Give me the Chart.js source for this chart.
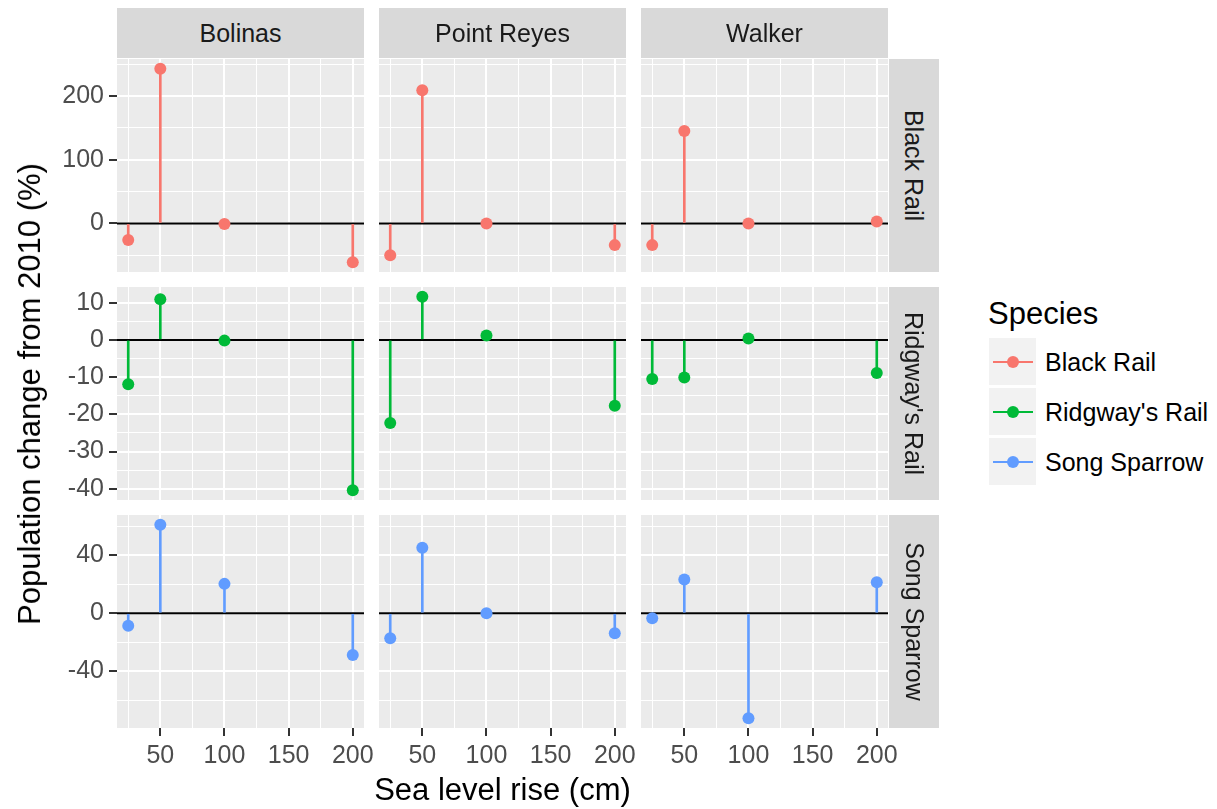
<!DOCTYPE html>
<html>
<head>
<meta charset="utf-8">
<script src="https://cdn.jsdelivr.net/npm/chart.js@4.4.0/dist/chart.umd.min.js"></script>
<style>
  body { margin: 0; background: #fff; font-family: "Liberation Sans", Arial, sans-serif; }
  #wrap { position: relative; width: 1217px; height: 809px; overflow: hidden; }
  canvas { position: absolute; }
  .strip { position: absolute; background: #D9D9D9; color: #1A1A1A; font-size: 25px;
           display: flex; align-items: center; justify-content: center; white-space: nowrap; }
  .strip.right span { transform: rotate(90deg); }
  .title { position: absolute; color: #000; font-size: 31px; white-space: nowrap; transform: translate(-50%, -50%); }
  .title.y { transform: translate(-50%, -50%) rotate(-90deg); }
  .key { position: absolute; width: 47px; height: 47px; background: #F2F2F2; }
  .key .ln { position: absolute; left: 4px; width: 40px; top: 22.5px; height: 2px; }
  .key .pt { position: absolute; left: 17.5px; top: 17.5px; width: 12px; height: 12px; border-radius: 50%; }
  .klabel { position: absolute; font-size: 25px; color: #000; transform: translateY(-50%); white-space: nowrap; }
</style>
</head>
<body>
<div id="wrap"></div>
<script>
// facets
const sites = ['Bolinas', 'Point Reyes', 'Walker'];
const species = ['Black Rail', "Ridgway's Rail", 'Song Sparrow'];
const colors = ['#F8766D', '#00BA38', '#619CFF'];

// sea level rise (cm)
const seaLevelRise = [25, 50, 100, 200];

// population change from 2010 (%), one array per site (Bolinas, Point Reyes, Walker)
const blackRail = [[-26, 243, -1, -61], [-50, 209, 0, -34], [-34, 145, 0, 3]];
const ridgwaysRail = [[-11.9, 10.9, -0.2, -40.4], [-22.3, 11.6, 1.2, -17.7], [-10.5, -10.1, 0.4, -8.9]];
const songSparrow = [[-8.6, 61.2, 20.3, -28.9], [-17.3, 45.3, 0, -13.9], [-3.5, 23.3, -72.6, 21.5]];
const rows = [blackRail, ridgwaysRail, songSparrow];

// ticks (major = labelled, grid = major + minor)
const xTicks = [50, 100, 150, 200];
const xGrid = [25, 50, 75, 100, 125, 150, 175, 200];
const yTicks = [[0, 100, 200], [-40, -30, -20, -10, 0, 10], [-40, 0, 40]];
const yGrid = [
  [-50, 0, 50, 100, 150, 200, 250],
  [-40, -35, -30, -25, -20, -15, -10, -5, 0, 5, 10],
  [-60, -40, -20, 0, 20, 40, 60]
];

// layout
const colLeft = [117, 379, 641], panelW = 247;
const rowTop = [59, 287, 515], panelH = 213;
const M = 25;
const FONT = '"Liberation Sans", Arial, sans-serif';
const wrap = document.getElementById('wrap');

// ggplot-style 5% expansion
function expand(lo, hi) {
  const p = (hi - lo) * 0.05;
  return [lo - p, hi + p];
}
const [xMin, xMax] = expand(Math.min(...seaLevelRise), Math.max(...seaLevelRise));

const panelBg = {
  id: 'panelBg',
  beforeDraw(chart) {
    const a = chart.chartArea, ctx = chart.ctx;
    ctx.save();
    ctx.fillStyle = '#EBEBEB';
    ctx.fillRect(a.left, a.top, a.right - a.left, a.bottom - a.top);
    ctx.restore();
  }
};

const zeroLine = {
  id: 'zeroLine',
  beforeDatasetsDraw(chart) {
    const a = chart.chartArea, ctx = chart.ctx;
    const y = chart.scales.y.getPixelForValue(0);
    ctx.save();
    ctx.strokeStyle = '#000';
    ctx.lineWidth = 2;
    ctx.beginPath();
    ctx.moveTo(a.left, y);
    ctx.lineTo(a.right, y);
    ctx.stroke();
    ctx.restore();
  }
};

function addDiv(cls, html, style) {
  const d = document.createElement('div');
  d.className = cls;
  d.innerHTML = html;
  Object.assign(d.style, style);
  wrap.appendChild(d);
  return d;
}

rows.forEach((siteVals, r) => {
  const [yMin, yMax] = expand(Math.min(...siteVals.flat()), Math.max(...siteVals.flat()));
  siteVals.forEach((vals, c) => {
    const left = c === 0 ? 0 : colLeft[c] - M;
    const top = rowTop[r] - M;
    const w = colLeft[c] + panelW + M - left;
    const h = rowTop[r] + panelH + (r === 2 ? 60 : M) - top;

    const cv = document.createElement('canvas');
    cv.width = w; cv.height = h;
    cv.style.left = left + 'px'; cv.style.top = top + 'px';
    cv.style.width = w + 'px'; cv.style.height = h + 'px';
    wrap.appendChild(cv);

    const col = colors[r];
    new Chart(cv, {
      type: 'scatter',
      data: {
        datasets: [
          {
            type: 'bar',
            data: seaLevelRise.map((x, i) => ({ x: x, y: [0, vals[i]] })),
            backgroundColor: col,
            borderWidth: 0,
            barThickness: 2,
            order: 2
          },
          {
            type: 'scatter',
            data: seaLevelRise.map((x, i) => ({ x: x, y: vals[i] })),
            backgroundColor: col,
            pointRadius: 6,
            borderWidth: 0,
            order: 1
          }
        ]
      },
      options: {
        responsive: false,
        animation: false,
        events: [],
        devicePixelRatio: 1,
        layout: { padding: { left: c === 0 ? 0 : M, top: M, right: M, bottom: r === 2 ? 0 : M } },
        plugins: { legend: { display: false }, tooltip: { enabled: false } },
        scales: {
          x: {
            type: 'linear',
            min: xMin,
            max: xMax,
            offset: false,
            afterBuildTicks: s => { s.ticks = xGrid.map(v => ({ value: v })); },
            afterFit: s => { s.height = r === 2 ? 60 : 0; s.paddingLeft = 0; s.paddingRight = 0; },
            border: { display: false },
            grid: {
              offset: false,
              color: '#fff',
              lineWidth: ctx => (ctx.tick && xTicks.includes(ctx.tick.value)) ? 2 : 1,
              drawTicks: r === 2,
              tickLength: 8,
              tickWidth: 2,
              tickColor: ctx => (ctx.tick && xTicks.includes(ctx.tick.value)) ? '#333333' : 'rgba(0,0,0,0)'
            },
            ticks: {
              display: r === 2,
              autoSkip: false,
              maxRotation: 0,
              padding: 5,
              color: '#4D4D4D',
              font: { size: 25, family: FONT },
              callback: v => xTicks.includes(v) ? v : ''
            }
          },
          y: {
            type: 'linear',
            min: yMin,
            max: yMax,
            afterBuildTicks: s => { s.ticks = yGrid[r].map(v => ({ value: v })); },
            afterFit: s => { s.width = c === 0 ? colLeft[0] : 0; s.paddingTop = 0; s.paddingBottom = 0; },
            border: { display: false },
            grid: {
              color: '#fff',
              lineWidth: ctx => (ctx.tick && yTicks[r].includes(ctx.tick.value)) ? 2 : 1,
              drawTicks: c === 0,
              tickLength: 8,
              tickWidth: 2,
              tickColor: ctx => (ctx.tick && yTicks[r].includes(ctx.tick.value)) ? '#333333' : 'rgba(0,0,0,0)'
            },
            ticks: {
              display: c === 0,
              autoSkip: false,
              padding: 5,
              color: '#4D4D4D',
              font: { size: 25, family: FONT },
              callback: v => yTicks[r].includes(v) ? v : ''
            }
          }
        }
      },
      plugins: [panelBg, zeroLine]
    });
  });
});

// strips
sites.forEach((s, c) => {
  addDiv('strip', s, { left: colLeft[c] + 'px', top: '8px', width: panelW + 'px', height: '50px' });
});
species.forEach((s, r) => {
  addDiv('strip right', '<span>' + s + '</span>', { left: '889px', top: rowTop[r] + 'px', width: '50px', height: panelH + 'px' });
});

// axis titles
addDiv('title', 'Sea level rise (cm)', { left: (colLeft[0] + colLeft[2] + panelW) / 2 + 'px', top: '790px' });
addDiv('title y', 'Population change from 2010 (%)', { left: '30px', top: (rowTop[0] + rowTop[2] + panelH) / 2 + 'px' });

// legend
addDiv('title', 'Species', { left: '988px', top: '314px', transform: 'translateY(-50%)' });
species.forEach((s, i) => {
  const y = 338 + i * 50;
  addDiv('key', '<div class="ln" style="background:' + colors[i] + '"></div><div class="pt" style="background:' + colors[i] + '"></div>',
    { left: '989px', top: y + 'px' });
  addDiv('klabel', s, { left: '1045px', top: (y + 24) + 'px' });
});
</script>
</body>
</html>
